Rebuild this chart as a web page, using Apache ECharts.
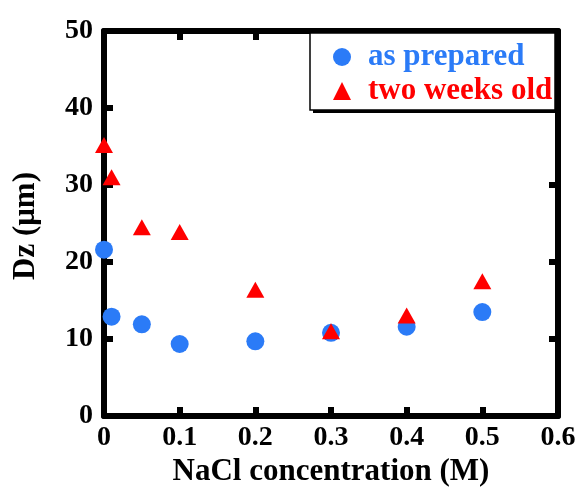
<!DOCTYPE html>
<html>
<head>
<meta charset="utf-8">
<script src="https://cdn.jsdelivr.net/npm/echarts@6/dist/echarts.min.js"></script>
<style>html,body{margin:0;padding:0;background:#fff;}#c{width:579px;height:488px;}</style>
</head>
<body>
<div id="c"></div>
<script>
const naclConc = [0, 0.01, 0.05, 0.1, 0.2, 0.3, 0.4, 0.5];
const asPrepared = [21.6, 12.9, 11.9, 9.35, 9.7, 10.8, 11.6, 13.5];
const twoWeeksOld = [35.2, 31.0, 24.5, 23.9, 16.4, 11.0, 13.05, 17.5];
const seriesNames = ['as prepared', 'two weeks old'];
const xTitle = 'NaCl concentration (M)';
const yTitle = 'Dz (\u03bcm)';

const FONT = 'Liberation Serif';
const BLUE = '#2b7bf7';
const RED = '#ff0000';

const chart = echarts.init(document.getElementById('c'), null, {renderer: 'canvas'});
const axisLine = {show: true, onZero: false, lineStyle: {color: '#000', width: 6}};
const axisTick = {show: true, inside: true, length: 9, lineStyle: {color: '#000', width: 6}};
const labelStyle = {fontFamily: FONT, fontWeight: 'bold', fontSize: 28, color: '#000'};

chart.setOption({
  animation: false,
  backgroundColor: '#fff',
  grid: {left: 104, right: 21, top: 31, bottom: 72, containLabel: false, outerBoundsMode: 'none'},
  xAxis: [{
    type: 'value', min: 0, max: 0.6, interval: 0.1, position: 'bottom',
    axisLine, axisTick, splitLine: {show: false},
    axisLabel: Object.assign({margin: 8, formatter: v => v === 0 ? '0' : String(+v.toFixed(1))}, labelStyle),
    name: xTitle, nameLocation: 'middle', nameGap: 32,
    nameTextStyle: {fontFamily: FONT, fontWeight: 'bold', fontSize: 31, color: '#000'}
  }, {
    type: 'value', min: 0, max: 0.6, interval: 0.1, position: 'top',
    axisLine, axisTick, splitLine: {show: false}, axisLabel: {show: false}
  }],
  yAxis: [{
    type: 'value', min: 0, max: 50, interval: 10, position: 'left',
    axisLine, axisTick, splitLine: {show: false},
    axisLabel: Object.assign({margin: 11}, labelStyle),
    name: yTitle, nameLocation: 'middle', nameGap: 63,
    nameTextStyle: {fontFamily: FONT, fontWeight: 'bold', fontSize: 31, color: '#000', padding: [0, 5, 0, 0]}
  }, {
    type: 'value', min: 0, max: 50, interval: 10, position: 'right',
    axisLine, axisTick, splitLine: {show: false}, axisLabel: {show: false}
  }],
  graphic: [
    {type: 'rect', z: 90, shape: {x: 313, y: 36, width: 245, height: 77}, style: {fill: '#000'}},
    {type: 'rect', z: 91, shape: {x: 310, y: 33, width: 245, height: 77}, style: {fill: '#fff', stroke: '#000', lineWidth: 1.5}}
  ],
  legend: {
    z: 100,
    orient: 'vertical', left: 333, top: 41, padding: 0,
    itemWidth: 18, itemHeight: 18, itemGap: 2,
    textStyle: {fontFamily: FONT, fontWeight: 'bold', fontSize: 31, lineHeight: 32, padding: [0, 0, 0, 12]},
    data: [
      {name: seriesNames[0], icon: 'circle', textStyle: {color: BLUE}},
      {name: seriesNames[1], icon: 'triangle', textStyle: {color: RED}}
    ]
  },
  series: [{
    name: seriesNames[0], type: 'scatter', symbol: 'circle', symbolSize: 18,
    itemStyle: {color: BLUE, opacity: 1},
    data: naclConc.map((x, i) => [x, asPrepared[i]]), z: 3
  }, {
    name: seriesNames[1], type: 'scatter', symbol: 'triangle', symbolSize: [18, 16],
    itemStyle: {color: RED, opacity: 1},
    data: naclConc.map((x, i) => [x, twoWeeksOld[i]]), z: 4
  }]
});
</script>
</body>
</html>
